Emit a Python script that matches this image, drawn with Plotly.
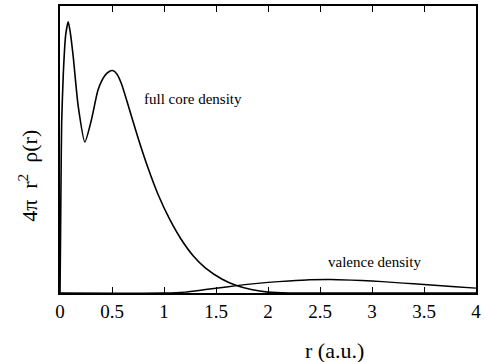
import plotly.graph_objects as go

# full core density (normalized units)
core_r = [0.0, 0.004, 0.01, 0.016, 0.032, 0.055, 0.079, 0.10, 0.127, 0.175, 0.239, 0.30, 0.367, 0.43,
          0.47, 0.505, 0.545, 0.59, 0.654, 0.75, 0.845, 0.941, 1.053, 1.16, 1.28, 1.40, 1.56, 1.69, 1.85, 2.0, 2.2, 4.0]
core_v = [0.0, 0.15, 0.40, 0.593, 0.766, 0.90, 0.945, 0.905, 0.824, 0.651, 0.526, 0.60, 0.709, 0.757,
          0.771, 0.775, 0.764, 0.730, 0.656, 0.541, 0.437, 0.345, 0.258, 0.19, 0.13, 0.087, 0.048, 0.027, 0.011, 0.003, 0.0, 0.0]

# valence density
val_r = [0.0, 1.0, 1.2, 1.4, 1.6, 1.8, 2.0, 2.2, 2.4, 2.6, 2.8, 3.0, 3.2, 3.4, 3.6, 3.8, 4.0]
val_v = [0.0, 0.0, 0.003, 0.012, 0.021, 0.030, 0.037, 0.042, 0.046, 0.047, 0.045, 0.042, 0.037, 0.032, 0.027, 0.022, 0.017]

x_ticks = [0, 0.5, 1, 1.5, 2, 2.5, 3, 3.5, 4]
x_tick_labels = ["0", "0.5", "1", "1.5", "2", "2.5", "3", "3.5", "4"]

FONT = "Liberation Serif"

fig = go.Figure()
fig.add_trace(go.Scatter(x=core_r, y=core_v, mode="lines", line=dict(color="black", width=1.6, shape="spline", smoothing=0.6)))
fig.add_trace(go.Scatter(x=val_r, y=val_v, mode="lines", line=dict(color="black", width=1.4, shape="spline", smoothing=0.6)))

fig.add_annotation(x=1.28, y=0.675, text="full core density", showarrow=False,
                   font=dict(family=FONT, size=15, color="black"), xanchor="center", yanchor="middle")
fig.add_annotation(x=3.02, y=0.107, text="valence density", showarrow=False,
                   font=dict(family=FONT, size=15, color="black"), xanchor="center", yanchor="middle")

# axis titles as annotations for exact placement
fig.add_annotation(xref="paper", yref="paper", x=0.66, y=-0.2, text="r (a.u.)", showarrow=False,
                   font=dict(family=FONT, size=22, color="black"), xanchor="center", yanchor="middle")
fig.add_annotation(xref="paper", yref="paper", x=-0.077, y=0.408, text="4π  r<sup>2</sup>  ρ(r)", showarrow=False,
                   textangle=-90, font=dict(family=FONT, size=22, color="black"), xanchor="center", yanchor="middle")

fig.update_layout(
    width=485, height=362,
    margin=dict(l=60, r=7, t=4, b=69),
    paper_bgcolor="white", plot_bgcolor="white",
    showlegend=False,
    font=dict(family=FONT, color="black"),
    xaxis=dict(range=[0, 4], tickvals=x_ticks, ticktext=x_tick_labels,
               ticks="inside", ticklen=6, tickwidth=1.2, tickcolor="black",
               showline=True, linecolor="black", linewidth=1.5, mirror="ticks",
               showgrid=False, zeroline=False, ticklabelstandoff=0,
               tickfont=dict(family=FONT, size=19, color="black")),
    yaxis=dict(range=[0, 1], showticklabels=False, ticks="",
               showline=True, linecolor="black", linewidth=1.5, mirror=True,
               showgrid=False, zeroline=False),
)

fig.write_html("out.html")
